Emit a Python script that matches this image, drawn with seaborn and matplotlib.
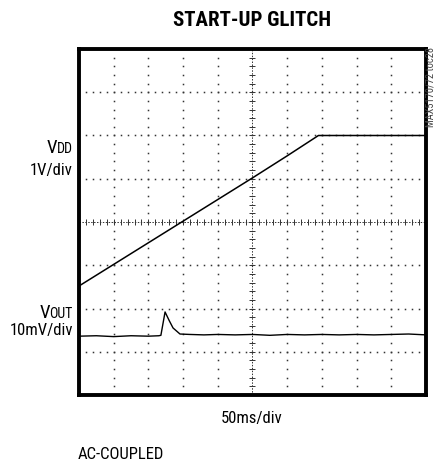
import numpy as np
import matplotlib
matplotlib.use('Agg')
import matplotlib.pyplot as plt
from matplotlib import font_manager as fm
import seaborn as sns

# ------------------------------------------------------------
# Data (x in divisions, y in divisions)
# ------------------------------------------------------------
vdd_t = [0.0, 1.0, 2.0, 3.0, 4.0, 5.0, 6.0, 6.9, 7.5, 8.5, 10.0]
vdd_v = [2.52, 3.02, 3.52, 4.02, 4.52, 5.02, 5.53, 6.0, 6.0, 6.0, 6.0]

vout_t = [0.0, 0.5, 1.0, 1.5, 2.0, 2.3, 2.36, 2.48, 2.6, 2.71, 2.91, 3.2,
          3.6, 4.0, 4.5, 5.0, 5.5, 6.0, 6.5, 7.0, 7.5, 8.0, 8.5, 9.0, 9.5, 10.0]
vout_v = [1.36, 1.37, 1.35, 1.37, 1.36, 1.37, 1.38, 1.92, 1.72, 1.55, 1.41, 1.40,
          1.39, 1.40, 1.39, 1.40, 1.38, 1.40, 1.39, 1.40, 1.39, 1.40, 1.39, 1.40, 1.41, 1.39]

x_divs = 10
y_divs = 8

sns.set_style('white')

# pick a condensed face that is installed
installed = {f.name for f in fm.fontManager.ttflist}
cond = next((n for n in ['Roboto Condensed', 'Archivo Narrow', 'Barlow Condensed',
                         'Asap Condensed'] if n in installed), 'DejaVu Sans')
font = [cond, 'DejaVu Sans']
plt.rcParams['font.family'] = font
plt.rcParams['text.color'] = 'black'

fig = plt.figure(figsize=(4.35, 4.61), dpi=100)
W, H = 435, 461
ax = fig.add_axes([79 / W, (H - 395) / H, 347 / W, 346 / H])
ax.set_xlim(0, x_divs)
ax.set_ylim(0, y_divs)

# dotted graticule
minor = np.arange(1, x_divs * 5) / 5
minor_y = np.arange(1, y_divs * 5) / 5
for k in range(1, x_divs):
    if k == x_divs // 2:
        continue
    ax.plot([k] * len(minor_y), minor_y, ls='none', marker='s', ms=1.1,
            color='#333333', mew=0)
for k in range(1, y_divs):
    if k == y_divs // 2:
        continue
    ax.plot(minor, [k] * len(minor), ls='none', marker='s', ms=1.1,
            color='#333333', mew=0)

# centre cross with small ticks
cx, cy = x_divs / 2, y_divs / 2
ax.axvline(cx, color='#333333', lw=0.7, ls=(0, (1.5, 1.5)))
ax.axhline(cy, color='#333333', lw=0.7, ls=(0, (1.5, 1.5)))
ax.plot(minor, [cy] * len(minor), ls='none', marker='|', ms=4, mew=0.7,
        color='#333333')
ax.plot([cx] * len(minor_y), minor_y, ls='none', marker='_', ms=4, mew=0.7,
        color='#333333')

# traces
sns.lineplot(x=vdd_t, y=vdd_v, ax=ax, color='black', lw=1.1)
sns.lineplot(x=vout_t, y=vout_v, ax=ax, color='black', lw=1.0)

ax.set_xticks([])
ax.set_yticks([])
for s in ax.spines.values():
    s.set_visible(True)
    s.set_color('black')
    s.set_linewidth(2.8)

# texts
fig.text(252 / W, 1 - 21 / H, 'START-UP GLITCH', ha='center', va='center',
         fontsize=15, fontweight='bold', family=font)
fig.text(252 / W, 1 - 418 / H, '50ms/div', ha='center', va='center',
         fontsize=12, family=font)
fig.text(78 / W, 1 - 454 / H, 'AC-COUPLED', ha='left', va='center',
         fontsize=12, family=font)
fig.text(73 / W, 1 - 175 / H, '1V/div', ha='right', va='baseline',
         fontsize=12, family=font)
fig.text(73 / W, 1 - 335 / H, '10mV/div', ha='right', va='baseline',
         fontsize=12, family=font)
fig.text(431 / W, 1 - 47 / H, 'MAX5170/72 toc28', ha='center', va='top',
         rotation=90, fontsize=7.5, color='#444444', family=font)

# V with small-caps style suffix on the same baseline
renderer = fig.canvas.get_renderer()
for base_y, suffix in [(153, 'DD'), (318, 'OUT')]:
    t = fig.text(73 / W, 1 - base_y / H, suffix, ha='right', va='baseline',
                 fontsize=10, family=font)
    bb = t.get_window_extent(renderer)
    fig.text(bb.x0 / W, 1 - base_y / H, 'V', ha='right', va='baseline',
             fontsize=13.5, family=font)

fig.savefig('out.png', dpi=100)
